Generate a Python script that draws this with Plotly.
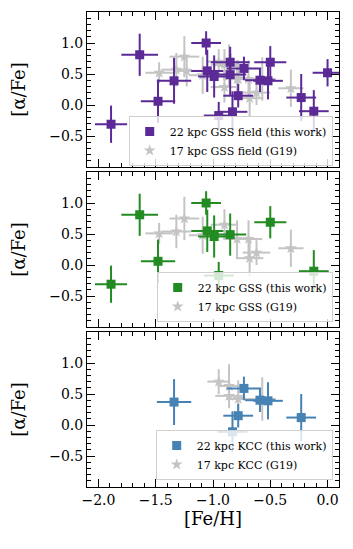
import plotly.graph_objects as go

# ---- data ----
field_x = [-1.89, -1.64, -1.48, -1.34, -1.06, -1.05, -0.99, -0.85, -0.85, -0.73, -0.95, -0.83, -0.78, -0.59, -0.52, -0.50, -0.23, -0.12, 0.00]
field_y = [-0.31, 0.81, 0.06, 0.39, 1.00, 0.55, 0.46, 0.69, 0.49, 0.59, -0.17, -0.11, 0.15, 0.40, 0.39, 0.69, 0.12, -0.10, 0.52]
field_xerr = [0.14, 0.16, 0.15, 0.15, 0.13, 0.14, 0.14, 0.17, 0.14, 0.15, 0.13, 0.13, 0.13, 0.13, 0.13, 0.14, 0.13, 0.13, 0.13]
field_yerr = [0.30, 0.34, 0.35, 0.37, 0.19, 0.34, 0.34, 0.25, 0.34, 0.19, 0.22, 0.33, 0.19, 0.19, 0.30, 0.26, 0.38, 0.34, 0.22]

gss_x = [-1.89, -1.64, -1.48, -1.06, -1.05, -0.99, -0.85, -0.95, -0.50, -0.12]
gss_y = [-0.31, 0.81, 0.06, 1.00, 0.55, 0.46, 0.49, -0.17, 0.69, -0.10]
gss_xerr = [0.14, 0.16, 0.15, 0.13, 0.14, 0.14, 0.14, 0.13, 0.14, 0.13]
gss_yerr = [0.30, 0.34, 0.35, 0.19, 0.34, 0.34, 0.34, 0.22, 0.26, 0.34]

kcc_x = [-1.34, -0.73, -0.78, -0.83, -0.59, -0.52, -0.23]
kcc_y = [0.37, 0.59, 0.15, -0.11, 0.40, 0.39, 0.12]
kcc_xerr = [0.15, 0.15, 0.13, 0.13, 0.13, 0.13, 0.13]
kcc_yerr = [0.37, 0.19, 0.19, 0.33, 0.19, 0.30, 0.38]

g19_field_x = [-1.47, -1.32, -1.25, -1.23, -1.09, -0.95, -0.90, -0.86, -0.86, -0.90, -0.79, -0.78, -0.69, -0.68, -0.62, -0.57, -0.32]
g19_field_y = [0.52, 0.57, 0.78, 0.55, 0.48, 0.70, 0.65, 0.63, 0.47, 0.29, 0.42, 0.42, 0.42, 0.11, 0.20, 0.42, 0.27]
g19_field_xerr = [0.12, 0.13, 0.13, 0.12, 0.12, 0.10, 0.12, 0.10, 0.12, 0.12, 0.12, 0.10, 0.12, 0.12, 0.12, 0.12, 0.11]
g19_field_yerr = [0.17, 0.27, 0.33, 0.25, 0.30, 0.20, 0.25, 0.35, 0.20, 0.25, 0.30, 0.30, 0.30, 0.30, 0.20, 0.35, 0.30]

g19_gss_x = [-1.47, -1.32, -1.25, -1.09, -0.90, -0.79, -0.69, -0.68, -0.62, -0.32]
g19_gss_y = [0.51, 0.54, 0.75, 0.48, 0.65, 0.42, 0.42, 0.11, 0.20, 0.27]
g19_gss_xerr = [0.12, 0.13, 0.13, 0.12, 0.12, 0.12, 0.12, 0.12, 0.12, 0.11]
g19_gss_yerr = [0.17, 0.27, 0.35, 0.30, 0.25, 0.30, 0.30, 0.30, 0.20, 0.30]

g19_kcc_x = [-0.95, -0.86, -0.86, -0.78, -0.57]
g19_kcc_y = [0.70, 0.63, 0.47, 0.42, 0.42]
g19_kcc_xerr = [0.10, 0.10, 0.12, 0.10, 0.12]
g19_kcc_yerr = [0.20, 0.35, 0.20, 0.30, 0.35]

labels = [
    ("22 kpc GSS field (this work)", "17 kpc GSS field (G19)"),
    ("22 kpc GSS (this work)", "17 kpc GSS (G19)"),
    ("22 kpc KCC (this work)", "17 kpc KCC (G19)"),
]
colors = ["#5b2a96", "#228b22", "#4682b4"]
GRAY = "#c4c4c4"
FONT = "DejaVu Serif"

panels = [
    (field_x, field_y, field_xerr, field_yerr, g19_field_x, g19_field_y, g19_field_xerr, g19_field_yerr),
    (gss_x, gss_y, gss_xerr, gss_yerr, g19_gss_x, g19_gss_y, g19_gss_xerr, g19_gss_yerr),
    (kcc_x, kcc_y, kcc_xerr, kcc_yerr, g19_kcc_x, g19_kcc_y, g19_kcc_xerr, g19_kcc_yerr),
]

fig = go.Figure()

# geometry (the page body has an 8px default margin, so the figure is
# sized to fill the rest of the 353x549 window)
W, H = 345, 541
ml, mr, mt, mb = 79, 14, 4, 62
ph = H - mt - mb  # 475
panel_h = 155
gap = 5
domains = []
for i in range(3):
    top = i * (panel_h + gap)
    bot = top + panel_h
    domains.append([(ph - bot) / ph, (ph - top) / ph])

legend_names = ["legend", "legend2", "legend3"]
for i, (x, y, xe, ye, gx, gy, gxe, gye) in enumerate(panels):
    ax = "" if i == 0 else str(i + 1)
    fig.add_trace(go.Scatter(
        x=gx, y=gy, mode="markers", name=labels[i][1],
        xaxis="x" + ax, yaxis="y" + ax, legend=legend_names[i], legendrank=2,
        marker=dict(symbol="star", size=9, color=GRAY, line=dict(width=0)),
        error_x=dict(type="data", array=gxe, thickness=2, width=0, color=GRAY),
        error_y=dict(type="data", array=gye, thickness=2, width=0, color=GRAY),
    ))
    fig.add_trace(go.Scatter(
        x=x, y=y, mode="markers", name=labels[i][0],
        xaxis="x" + ax, yaxis="y" + ax, legend=legend_names[i], legendrank=1,
        marker=dict(symbol="square", size=9, color=colors[i], line=dict(width=0)),
        error_x=dict(type="data", array=xe, thickness=2, width=0, color=colors[i]),
        error_y=dict(type="data", array=ye, thickness=2, width=0, color=colors[i]),
    ))

layout = dict(
    template="none",
    width=W, height=H,
    margin=dict(l=ml, r=mr, t=mt, b=mb, autoexpand=False),
    plot_bgcolor="white", paper_bgcolor="white",
    font=dict(family=FONT, color="black", size=14),
)

legend_bottoms = [(ph - 154) / ph, (ph - 310) / ph, (ph - 468) / ph]
for i in range(3):
    ax = "" if i == 0 else str(i + 1)
    layout["xaxis" + ax] = dict(
        range=[-2.1, 0.1], domain=[0, 1], anchor="y" + ax, automargin=False,
        showline=True, linecolor="black", linewidth=1, mirror="allticks",
        ticks="inside", ticklen=8, tickwidth=1, tickcolor="black",
        tickvals=[-2.0, -1.5, -1.0, -0.5, 0.0],
        ticktext=["\u22122.0", "\u22121.5", "\u22121.0", "\u22120.5", "0.0"],
        showticklabels=(i == 2), showgrid=False, zeroline=False,
        minor=dict(dtick=0.1, tick0=0, ticks="inside", ticklen=4, tickcolor="black", showgrid=False),
        tickfont=dict(size=14, family=FONT),
        title=dict(text="[Fe/H]" if i == 2 else "", font=dict(size=18, family=FONT), standoff=4),
    )
    layout["yaxis" + ax] = dict(
        range=[-1.0, 1.5], domain=domains[i], anchor="x" + ax, automargin=False,
        showline=True, linecolor="black", linewidth=1, mirror="allticks",
        ticks="inside", ticklen=8, tickwidth=1, tickcolor="black",
        tickvals=[-0.5, 0.0, 0.5, 1.0],
        ticktext=["\u22120.5", "0.0", "0.5", "1.0"],
        showgrid=False, zeroline=False,
        minor=dict(dtick=0.1, tick0=0, ticks="inside", ticklen=4, tickcolor="black", showgrid=False),
        tickfont=dict(size=14, family=FONT),
        title=dict(text="[\u03b1/Fe]", font=dict(size=18, family=FONT), standoff=20),
    )
    layout[legend_names[i]] = dict(
        x=0.975, y=legend_bottoms[i], xanchor="right", yanchor="bottom",
        bgcolor="rgba(255,255,255,0.8)", bordercolor="#d0d0d0", borderwidth=1,
        font=dict(size=11, family=FONT), itemsizing="trace",
        tracegroupgap=0, traceorder="normal",
    )

fig.update_layout(**layout)
fig.write_html("out.html")
